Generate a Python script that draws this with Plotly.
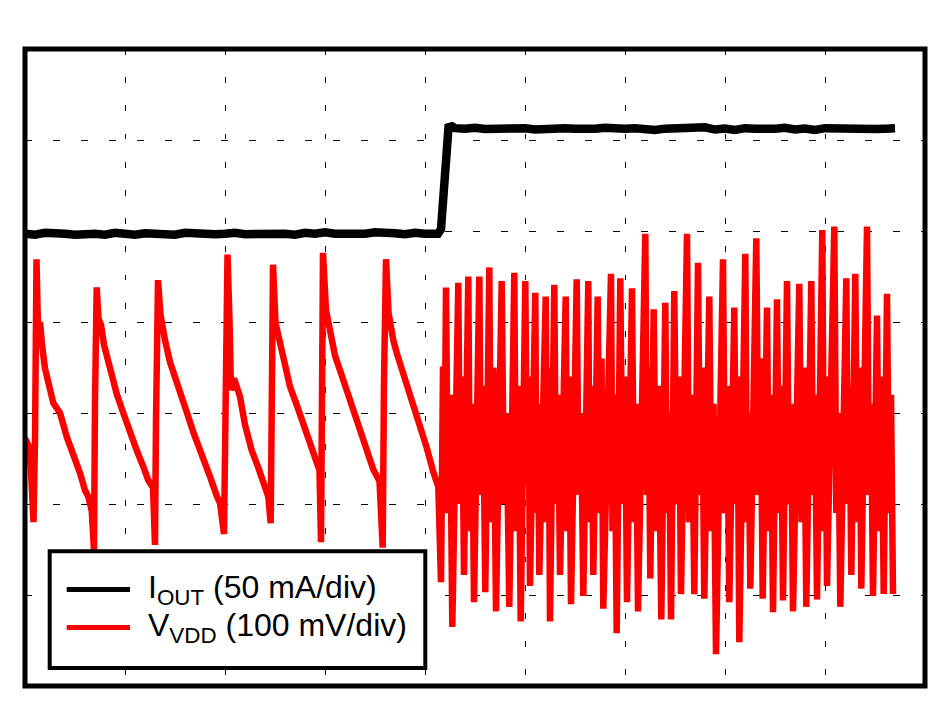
import plotly.graph_objects as go

# Axes in scope divisions: 9 horizontal, 7 vertical
X_DIVS = [0, 9]
Y_DIVS = [0, 7]

# ---- I_OUT (black) ----
iout_t = [0.00, 0.10, 0.20, 0.30, 0.40, 0.50, 0.60, 0.70, 0.80, 0.90,
          1.00, 1.10, 1.20, 1.30, 1.40, 1.50, 1.60, 1.70, 1.80, 1.90,
          2.00, 2.10, 2.20, 2.30, 2.40, 2.50, 2.60, 2.70, 2.80, 2.90,
          3.00, 3.10, 3.20, 3.30, 3.40, 3.50, 3.60, 3.70, 3.80, 3.90,
          4.00, 4.10,
          4.13, 4.16, 4.19, 4.215, 4.235, 4.27, 4.30,
          4.40, 4.50, 4.60, 4.70, 4.80, 4.90, 5.00, 5.10, 5.20, 5.30,
          5.40, 5.50, 5.60, 5.70, 5.80, 5.90, 6.00, 6.10, 6.20, 6.30,
          6.40, 6.50, 6.60, 6.70, 6.80, 6.90, 7.00, 7.10, 7.20, 7.30,
          7.40, 7.50, 7.60, 7.70, 7.80, 7.90, 8.00, 8.10, 8.20, 8.30,
          8.40, 8.50, 8.60, 8.70]
iout_v = [4.97, 4.96, 4.98, 4.965, 4.97, 4.96, 4.975, 4.97, 4.96, 4.98,
          4.97, 4.96, 4.975, 4.97, 4.965, 4.96, 4.98, 4.97, 4.98, 4.965,
          4.97, 4.98, 4.965, 4.97, 4.96, 4.975, 4.97, 4.96, 4.98, 4.97,
          4.985, 4.97, 4.965, 4.975, 4.97, 4.985, 4.97, 4.975, 4.965, 4.98,
          4.97, 4.975,
          4.97, 5.02, 5.58, 6.05, 6.14, 6.15, 6.13,
          6.125, 6.135, 6.12, 6.125, 6.115, 6.125, 6.13, 6.115, 6.125, 6.12,
          6.13, 6.125, 6.115, 6.125, 6.135, 6.12, 6.125, 6.13, 6.115, 6.11,
          6.125, 6.13, 6.12, 6.125, 6.14, 6.115, 6.125, 6.11, 6.13, 6.125,
          6.12, 6.125, 6.135, 6.115, 6.125, 6.11, 6.13, 6.125, 6.115, 6.13,
          6.125, 6.12, 6.125, 6.13]

# ---- V_VDD (red): sawtooth section before the load step ----
vvdd_t_saw = [0.00, 0.04, 0.06, 0.085, 0.10, 0.115, 0.13, 0.15, 0.17, 0.20,
              0.283, 0.35, 0.417, 0.483, 0.55, 0.60, 0.633, 0.667, 0.69,
              0.70, 0.717, 0.735, 0.76, 0.79, 0.82, 0.85, 0.917, 0.983, 1.05,
              1.117, 1.183, 1.233, 1.28, 1.30,
              1.31, 1.33, 1.355, 1.38, 1.40, 1.45, 1.50, 1.55, 1.617, 1.683,
              1.767, 1.85, 1.917, 1.95, 1.99,
              2.00, 2.015, 2.025, 2.045, 2.06, 2.09, 2.15, 2.20, 2.267, 2.333,
              2.40, 2.433, 2.457,
              2.465, 2.48, 2.505, 2.53, 2.56, 2.583, 2.65, 2.717, 2.783, 2.85,
              2.917, 2.945, 2.96,
              2.965, 2.98, 3.01, 3.04, 3.07, 3.10, 3.15, 3.217, 3.283, 3.35,
              3.417, 3.483, 3.545, 3.577,
              3.59, 3.61, 3.635, 3.66, 3.683, 3.717, 3.767, 3.817, 3.883, 3.95,
              4.017, 4.083, 4.133]
vvdd_v_saw = [2.72, 2.63, 2.37, 1.80, 2.70, 4.69, 3.91, 4.00, 3.75, 3.49,
              3.11, 3.00, 2.74, 2.56, 2.34, 2.15, 2.08, 1.93, 1.49,
              3.14, 4.38, 4.04, 3.97, 3.75, 3.62, 3.49, 3.21, 3.00, 2.78,
              2.59, 2.41, 2.26, 2.18, 1.55,
              2.92, 4.46, 4.08, 3.91, 3.80, 3.56, 3.38, 3.21, 3.01, 2.79,
              2.56, 2.30, 2.09, 2.01, 1.67,
              2.92, 4.02, 4.74, 4.02, 3.25, 3.38, 3.18, 2.87, 2.59, 2.40,
              2.18, 2.08, 1.79,
              2.92, 4.63, 3.99, 3.88, 3.75, 3.58, 3.29, 3.09, 2.87, 2.63,
              2.46, 2.37, 1.58,
              3.58, 4.76, 4.13, 3.97, 3.78, 3.63, 3.47, 3.25, 3.03, 2.79,
              2.57, 2.38, 2.25, 1.52,
              3.36, 4.69, 4.10, 3.93, 3.80, 3.66, 3.49, 3.30, 3.05, 2.84,
              2.62, 2.35, 2.19]

# ---- V_VDD (red): fast oscillation after the load step ----
# lead-in right after the step
vvdd_t_lead = [4.16, 4.18, 4.195]
vvdd_v_lead = [1.14, 3.51, 2.37]
# each cycle: peak -> lower shoulder -> upper shoulder -> trough
osc_peak_t = [4.21, 4.333, 4.433, 4.543, 4.643, 4.767, 4.893, 5.003, 5.103, 5.207,
              5.293, 5.407, 5.517, 5.633, 5.727, 5.86, 5.953, 6.07, 6.203, 6.287,
              6.403, 6.493, 6.62, 6.73, 6.843, 6.98, 7.093, 7.203, 7.313, 7.42,
              7.52, 7.62, 7.743, 7.863, 7.973, 8.093, 8.213, 8.303, 8.42, 8.52,
              8.62]
osc_peak_v = [4.38, 4.43, 4.50, 4.50, 4.60, 4.45, 4.54, 4.45, 4.32, 4.28,
              4.41, 4.28, 4.47, 4.45, 4.28, 4.53, 4.48, 4.37, 4.97, 4.14,
              4.21, 4.34, 4.97, 4.65, 4.28, 4.69, 4.16, 4.75, 4.92, 4.16,
              4.25, 4.45, 4.42, 4.45, 5.01, 5.05, 4.48, 4.53, 5.05, 4.07,
              4.31]
osc_low_t = [4.23, 4.35, 4.45, 4.56, 4.66, 4.79, 4.91, 5.02, 5.115, 5.22,
             5.31, 5.425, 5.535, 5.645, 5.745, 5.875, 5.975, 6.09, 6.22, 6.31,
             6.42, 6.515, 6.64, 6.75, 6.865, 7.00, 7.11, 7.22, 7.335, 7.44,
             7.54, 7.64, 7.765, 7.88, 7.99, 8.113, 8.23, 8.325, 8.44, 8.54,
             8.64]
osc_low_v = [1.9, 2.0, 1.7, 2.1, 1.8, 2.0, 1.7, 2.2, 1.9, 1.8,
             2.0, 1.7, 2.1, 1.8, 1.9, 1.7, 2.0, 1.8, 2.1, 1.7,
             1.9, 2.0, 1.8, 2.1, 1.7, 1.9, 2.0, 1.8, 2.1, 1.7,
             1.9, 2.0, 1.8, 2.1, 1.7, 1.9, 2.0, 1.8, 2.1, 1.7,
             1.9]
osc_high_t = [4.25, 4.37, 4.47, 4.58, 4.685, 4.815, 4.935, 5.035, 5.13, 5.235,
              5.33, 5.44, 5.56, 5.665, 5.765, 5.895, 6.00, 6.11, 6.235, 6.335,
              6.44, 6.54, 6.67, 6.77, 6.885, 7.02, 7.125, 7.235, 7.355, 7.46,
              7.56, 7.66, 7.79, 7.90, 8.005, 8.133, 8.245, 8.345, 8.46, 8.565,
              8.66]
osc_high_v = [3.2, 3.4, 3.1, 3.3, 3.5, 3.0, 3.3, 3.4, 3.1, 3.5,
              3.2, 3.4, 3.0, 3.3, 3.6, 3.2, 3.4, 3.1, 3.5, 3.3,
              3.0, 3.4, 3.2, 3.5, 3.1, 3.3, 3.4, 3.0, 3.6, 3.2,
              3.3, 3.1, 3.5, 3.2, 3.4, 3.0, 3.3, 3.5, 3.1, 3.4,
              3.2]
osc_trough_t = [4.273, 4.39, 4.49, 4.603, 4.71, 4.843, 4.957, 5.05, 5.143, 5.25,
                5.35, 5.46, 5.583, 5.683, 5.783, 5.917, 6.02, 6.13, 6.253, 6.363,
                6.46, 6.56, 6.693, 6.793, 6.91, 7.043, 7.143, 7.253, 7.377, 7.48,
                7.58, 7.68, 7.813, 7.92, 8.02, 8.153, 8.263, 8.363, 8.48, 8.587,
                8.68]
osc_trough_v = [0.65, 1.22, 0.92, 1.03, 0.82, 0.87, 0.71, 1.10, 1.22, 0.71,
                1.22, 0.90, 0.99, 1.22, 0.85, 0.58, 0.92, 0.82, 1.18, 0.73,
                0.73, 1.01, 1.01, 0.96, 0.35, 0.92, 0.48, 1.07, 0.96, 0.81,
                0.94, 0.82, 0.87, 0.95, 1.10, 0.87, 1.22, 1.07, 0.99, 1.01,
                1.01]

# assemble the V_VDD record in time order
vvdd_t = list(vvdd_t_saw) + list(vvdd_t_lead)
vvdd_v = list(vvdd_v_saw) + list(vvdd_v_lead)
for pt, pv, lt, lv, ht, hv, tt, tv in zip(osc_peak_t, osc_peak_v, osc_low_t, osc_low_v,
                                          osc_high_t, osc_high_v, osc_trough_t, osc_trough_v):
    vvdd_t += [pt, lt, ht, tt]
    vvdd_v += [pv, lv, hv, tv]

legend_labels = ["I<sub>OUT</sub> (50 mA/div)", "V<sub>VDD</sub> (100 mV/div)"]
colors = ["#000000", "#ff0000"]

FONT = "Liberation Sans, Arial, Helvetica, sans-serif"

fig = go.Figure()
fig.add_trace(go.Scatter(x=iout_t, y=iout_v, mode="lines", name=legend_labels[0],
                         line=dict(color=colors[0], width=8.5), showlegend=False))
fig.add_trace(go.Scatter(x=vvdd_t, y=vvdd_v, mode="lines", name=legend_labels[1],
                         line=dict(color=colors[1], width=6.5), showlegend=False))

axis_common = dict(showgrid=True, gridcolor="black", gridwidth=1.2, zeroline=False,
                   showticklabels=False, ticks="", showline=False, fixedrange=True, dtick=1, tick0=0)
# the page body has an 8px default margin, so the figure is sized to fill the 937x716 window
fig.update_layout(
    width=921, height=700,
    margin=dict(l=17, r=4, t=41, b=22),
    paper_bgcolor="white", plot_bgcolor="white",
    showlegend=False,
    xaxis=dict(range=X_DIVS, griddash="5.7px,22.5px", **axis_common),
    yaxis=dict(range=Y_DIVS, griddash="6.5px,21.5px", **axis_common),
)

shapes = [
    dict(type="rect", xref="paper", yref="paper", x0=0, x1=1, y0=0, y1=1,
         line=dict(color="black", width=5), fillcolor="rgba(0,0,0,0)", layer="above"),
    dict(type="rect", xref="x", yref="y", x0=0.247, x1=4.003, y0=0.198, y1=1.48,
         line=dict(color="black", width=4), fillcolor="white", layer="above"),
    dict(type="line", xref="x", yref="y", x0=0.417, x1=1.05, y0=1.06, y1=1.06,
         line=dict(color=colors[0], width=5), layer="above"),
    dict(type="line", xref="x", yref="y", x0=0.417, x1=1.05, y0=0.643, y1=0.643,
         line=dict(color=colors[1], width=5), layer="above"),
]
fig.update_layout(shapes=shapes)

for lab, yy in zip(legend_labels, [1.06, 0.643]):
    fig.add_annotation(x=1.233, y=yy, xref="x", yref="y", text=lab, showarrow=False,
                       xanchor="left", yanchor="middle", xshift=-2,
                       font=dict(family=FONT, size=32, color="black"))

fig.write_html("out.html")
